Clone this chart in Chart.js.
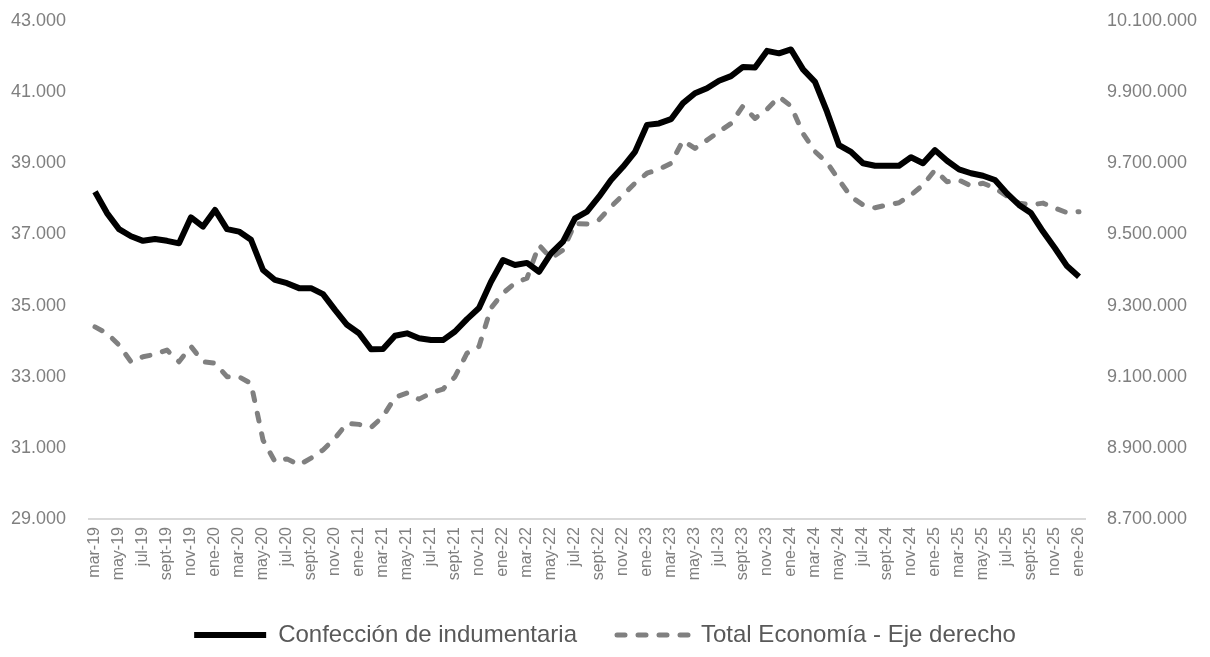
<!DOCTYPE html>
<html>
<head>
<meta charset="utf-8">
<script src="https://cdn.jsdelivr.net/npm/chart.js@4"></script>
<style>
  html, body { margin: 0; padding: 0; background: #fff; }
  #wrap { width: 1210px; height: 657px; position: relative; }
</style>
</head>
<body>
<div id="wrap"><canvas id="chart"></canvas></div>
<script>
const labels = [
  'mar-19','abr-19','may-19','jun-19','jul-19','ago-19','sept-19','oct-19','nov-19','dic-19',
  'ene-20','feb-20','mar-20','abr-20','may-20','jun-20','jul-20','ago-20','sept-20','oct-20','nov-20','dic-20',
  'ene-21','feb-21','mar-21','abr-21','may-21','jun-21','jul-21','ago-21','sept-21','oct-21','nov-21','dic-21',
  'ene-22','feb-22','mar-22','abr-22','may-22','jun-22','jul-22','ago-22','sept-22','oct-22','nov-22','dic-22',
  'ene-23','feb-23','mar-23','abr-23','may-23','jun-23','jul-23','ago-23','sept-23','oct-23','nov-23','dic-23',
  'ene-24','feb-24','mar-24','abr-24','may-24','jun-24','jul-24','ago-24','sept-24','oct-24','nov-24','dic-24',
  'ene-25','feb-25','mar-25','abr-25','may-25','jun-25','jul-25','ago-25','sept-25','oct-25','nov-25','dic-25',
  'ene-26'
]

// Confección de indumentaria (eje izquierdo)
const confeccion = [
  38200, 37600, 37150, 36950, 36820, 36870, 36820, 36750, 37480, 37220,
  37690, 37150, 37080, 36850, 36000, 35720, 35630, 35490, 35490, 35320,
  34880, 34460, 34220, 33770, 33780, 34150, 34220, 34080, 34030, 34030,
  34270, 34620, 34930, 35670, 36280, 36140, 36200, 35950, 36470, 36800,
  37450, 37640, 38060, 38530, 38900, 39320, 40080, 40120, 40240, 40690,
  40970, 41110, 41320, 41450, 41710, 41690, 42160, 42090, 42200, 41640,
  41290, 40450, 39510, 39320, 39000, 38930, 38930, 38930, 39170, 39000,
  39370, 39070, 38830, 38720, 38650, 38530, 38150, 37830, 37600, 37080,
  36610, 36110, 35810
]

// Total Economía (eje derecho)
const totalEconomia = [
  9240000, 9222000, 9189000, 9142000, 9156000, 9163000, 9175000, 9142000, 9185000, 9142000,
  9138000, 9100000, 9100000, 9081000, 8922000, 8861000, 8869000, 8852000, 8871000, 8894000,
  8927000, 8969000, 8966000, 8957000, 8988000, 9042000, 9054000, 9037000, 9054000, 9065000,
  9100000, 9166000, 9185000, 9293000, 9335000, 9363000, 9377000, 9470000, 9433000, 9456000,
  9531000, 9529000, 9541000, 9578000, 9611000, 9644000, 9672000, 9683000, 9700000, 9764000,
  9742000, 9765000, 9789000, 9812000, 9861000, 9826000, 9852000, 9887000, 9861000, 9784000,
  9733000, 9702000, 9653000, 9606000, 9583000, 9575000, 9583000, 9589000, 9611000, 9639000,
  9681000, 9648000, 9653000, 9636000, 9644000, 9630000, 9608000, 9588000, 9583000, 9588000,
  9574000, 9561000, 9564000
]

const leftTicks = { min: 29000, max: 43000, step: 2000 }
const rightTicks = { min: 8700000, max: 10100000, step: 200000 }

function miles(v) {
  return String(Math.round(v)).replace(/\B(?=(\d{3})+(?!\d))/g, '.')
}

const fontFamily = "'Liberation Sans', Arial, sans-serif"

new Chart(document.getElementById('chart'), {
  type: 'line',
  data: {
    labels: labels,
    datasets: [{
      label: 'Confección de indumentaria',
      data: confeccion,
      yAxisID: 'y',
      borderColor: '#000000',
      backgroundColor: '#000000',
      borderWidth: 6,
      borderJoinStyle: 'round',
      pointRadius: 0,
      tension: 0
    }, {
      label: 'Total Economía - Eje derecho',
      data: totalEconomia,
      yAxisID: 'y1',
      borderColor: '#808080',
      backgroundColor: '#808080',
      borderWidth: 5,
      borderDash: [8, 13],
      borderCapStyle: 'round',
      borderJoinStyle: 'round',
      pointRadius: 0,
      tension: 0
    }]
  },
  options: {
    responsive: true,
    maintainAspectRatio: false,
    animation: false,
    layout: { padding: { top: 21, left: 0, right: 0, bottom: 0 } },
    plugins: {
      tooltip: { enabled: false },
      legend: {
        position: 'bottom',
        labels: {
          usePointStyle: true,
          pointStyle: 'line',
          pointStyleWidth: 72,
          boxHeight: 24,
          padding: 40,
          color: '#595959',
          font: { family: fontFamily, size: 24 },
          // line samples need the dataset dash, not the point style
          generateLabels: function (chart) {
            const items = Chart.defaults.plugins.legend.labels.generateLabels(chart)
            items.forEach((it, i) => {
              const ds = chart.data.datasets[i]
              it.lineDash = ds.borderDash || []
              it.lineCap = ds.borderCapStyle || 'butt'
              it.lineWidth = ds.borderWidth
              it.strokeStyle = ds.borderColor
              it.pointStyle = 'line'
            })
            return items
          }
        }
      }
    },
    scales: {
      x: {
        offset: true,
        grid: { display: false, drawTicks: false },
        border: { display: true, color: '#d9d9d9', width: 2 },
        ticks: {
          autoSkip: false,
          minRotation: 90,
          maxRotation: 90,
          padding: 8,
          color: '#7f7f7f',
          font: { family: fontFamily, size: 16 },
          callback: function (val, i) {
            return i % 2 === 0 ? this.getLabelForValue(val) : ''
          }
        },
        afterFit: function (scale) { scale.height = 64 }
      },
      y: {
        position: 'left',
        min: leftTicks.min,
        max: leftTicks.max,
        grid: { display: false, drawTicks: false },
        border: { display: false },
        ticks: {
          stepSize: leftTicks.step,
          padding: 23,
          color: '#7f7f7f',
          font: { family: fontFamily, size: 18 },
          callback: v => miles(v)
        },
        afterFit: function (scale) {
          scale.width = 89
          scale.paddingTop = 0 // tick padding would otherwise push the plot down
          scale.paddingBottom = 0
        }
      },
      y1: {
        position: 'right',
        min: rightTicks.min,
        max: rightTicks.max,
        grid: { display: false, drawTicks: false },
        border: { display: false },
        ticks: {
          stepSize: rightTicks.step,
          padding: 22,
          color: '#7f7f7f',
          font: { family: fontFamily, size: 18 },
          callback: v => miles(v)
        },
        afterFit: function (scale) {
          scale.width = 125
          scale.paddingTop = 0
          scale.paddingBottom = 0
        }
      }
    }
  }
})
</script>
</body>
</html>
